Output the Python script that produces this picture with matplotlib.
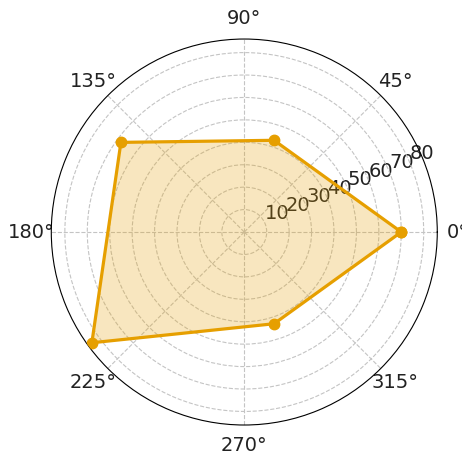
import matplotlib.pyplot as plt
import numpy as np

# data
angles_deg = [0, 72, 144, 216, 288]
values = [70, 43, 68, 84, 43]
rticks = [10, 20, 30, 40, 50, 60, 70, 80]

theta = np.deg2rad(angles_deg + [angles_deg[0]])
r = values + [values[0]]

fig = plt.figure(figsize=(4.62, 4.57), dpi=100)
ax = fig.add_axes([0.111, 0.070, 0.8355, 0.8446], projection='polar')

color = '#E69F00'
ax.fill(theta, r, color=color, alpha=0.25, zorder=2)
ax.plot(theta, r, color=color, lw=2.3, marker='o', markersize=7.5, zorder=3)

# autoscale leaves a small margin above the largest value
ax.set_ylim(0, max(values) + 0.05 * (max(values) - min(values)))
ax.set_yticks(rticks)
ax.set_rlabel_position(22.5)
ax.grid(True, linestyle='--', color='#c4c4c4', lw=0.8)
ax.tick_params(labelsize=14, colors='#222222')
ax.tick_params(axis='x', pad=4)

fig.savefig('out.png', dpi=100)
